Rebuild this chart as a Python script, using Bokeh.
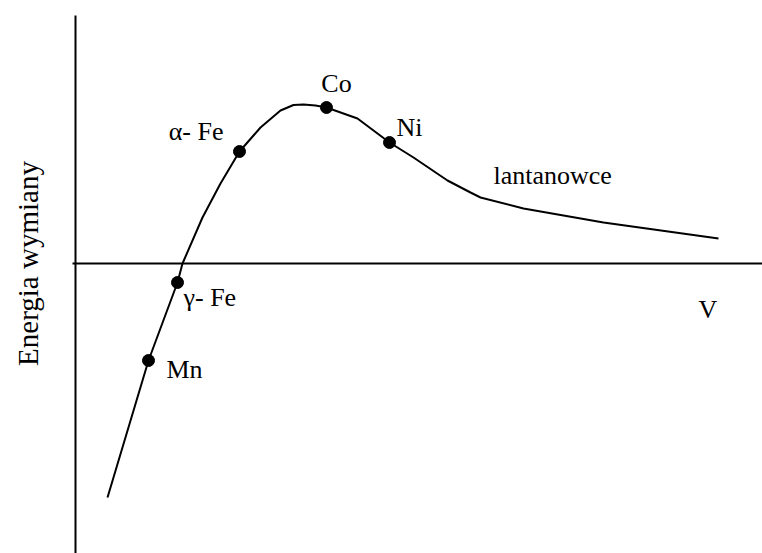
import math
from bokeh.plotting import figure
from bokeh.models import ColumnDataSource, Label
from bokeh.core.properties import value
from bokeh.embed import file_html
from bokeh.resources import INLINE

# Bethe-Slater curve: exchange energy vs. V (arbitrary units)
curve_x = [0.32, 0.73, 1.02, 1.07, 1.27, 1.45, 1.64, 1.85, 2.05, 2.18, 2.28, 2.40,
           2.51, 2.82, 3.14, 3.38, 3.72, 3.95, 4.05, 4.48, 5.28, 6.43]
curve_y = [-2.34, -0.97, -0.19, 0.00, 0.46, 0.80, 1.12, 1.36, 1.53, 1.585, 1.59, 1.58,
           1.56, 1.45, 1.21, 1.06, 0.83, 0.71, 0.66, 0.55, 0.41, 0.25]

# marked elements
elements = ["Mn", "γ- Fe", "α- Fe", "Co", "Ni"]
elem_x = [0.73, 1.02, 1.64, 2.51, 3.14]
elem_y = [-0.97, -0.19, 1.12, 1.56, 1.21]

# free annotations
region_label = "lantanowce"
region_x, region_y = 4.18, 0.88
x_axis_name = "V"
x_axis_name_pos = (6.23, -0.46)
y_axis_name = "Energia wymiany"

# axis extents (data units)
x_axis_extent = (-0.03, 7.2)
y_axis_extent = (-3.2, 2.48)

FONT_NAME = "Liberation Serif"
FONT = value(FONT_NAME)

p = figure(width=762, height=553, output_backend="svg", toolbar_location=None,
           x_range=(-0.75, 6.87), y_range=(-2.90, 2.63),
           x_axis_type=None, y_axis_type=None, min_border=0)
p.grid.visible = False
p.outline_line_color = None
p.background_fill_color = "white"
p.border_fill_color = "white"

# axes
p.segment(x0=[x_axis_extent[0], 0], y0=[0, y_axis_extent[0]],
          x1=[x_axis_extent[1], 0], y1=[0, y_axis_extent[1]],
          line_color="black", line_width=2)

# curve
p.line(curve_x, curve_y, line_color="black", line_width=2)

# element markers
esrc = ColumnDataSource(dict(
    x=elem_x, y=elem_y, name=elements,
    dx=[18, 6, -16, 10, 7],
    dy=[9, 15, -20, -24, -15],
    align=["left", "left", "right", "center", "left"],
))
p.scatter("x", "y", source=esrc, size=12, color="black")
p.text("x", "y", text="name", source=esrc, x_offset="dx", y_offset="dy",
       text_align="align", text_baseline="alphabetic",
       text_font=FONT, text_font_size="26px", text_color="black")

p.text([region_x], [region_y], text=[region_label], text_align="left",
       text_baseline="alphabetic", text_font=FONT, text_font_size="26px",
       text_color="black")
p.text([x_axis_name_pos[0]], [x_axis_name_pos[1]], text=[x_axis_name],
       text_align="left", text_baseline="alphabetic", text_font=FONT,
       text_font_size="26px", text_color="black")

p.add_layout(Label(x=-0.48, y=0, text=y_axis_name, angle=math.pi / 2,
                   text_align="center", text_baseline="alphabetic",
                   text_font=FONT_NAME, text_font_size="29px",
                   text_color="black"))

open("out.html", "w").write(file_html(p, INLINE))
